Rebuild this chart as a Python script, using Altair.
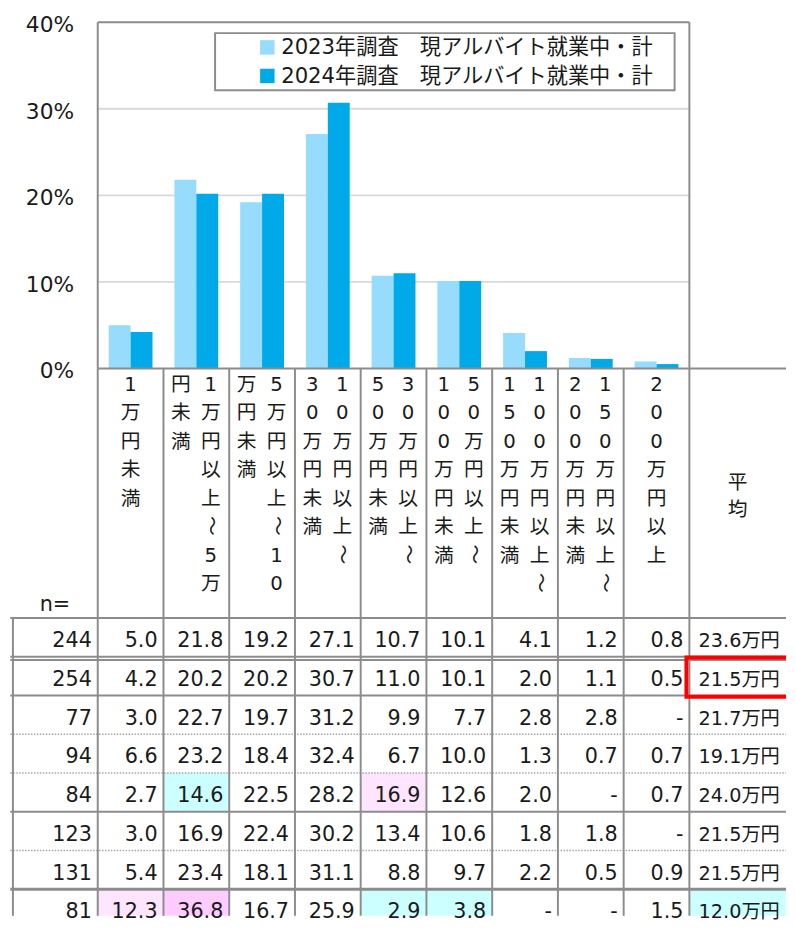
import altair as alt
import pandas as pd

FONT = "DejaVu Sans, Noto Sans CJK JP, sans-serif"

# ---------------- data ----------------
categories = ["1万円未満", "1万円以上～5万円未満", "5万円以上～10万円未満",
              "10万円以上～30万円未満", "30万円以上～50万円未満", "50万円以上～100万円未満",
              "100万円以上～150万円未満", "150万円以上～200万円未満", "200万円以上"]
series = ["2023年調査　現アルバイト就業中・計", "2024年調査　現アルバイト就業中・計"]
colors = ["#97DBFD", "#00AAE8"]
values_2023 = [5.0, 21.8, 19.2, 27.1, 10.7, 10.1, 4.1, 1.2, 0.8]
values_2024 = [4.2, 20.2, 20.2, 30.7, 11.0, 10.1, 2.0, 1.1, 0.5]
y_ticks = [0, 10, 20, 30, 40]
y_tick_labels = ["0%", "10%", "20%", "30%", "40%"]

# header text, vertical writing: right sub-column first, then left one
header_columns = [
    ["1万円未満"],
    ["1万円以上～5万", "円未満"],
    ["5万円以上～10", "万円未満"],
    ["10万円以上～", "30万円未満"],
    ["30万円以上～", "50万円未満"],
    ["50万円以上～", "100万円未満"],
    ["100万円以上～", "150万円未満"],
    ["150万円以上～", "200万円未満"],
    ["200万円以上"],
]
avg_header = "平均"
n_label = "n="

n_values = [244, 254, 77, 94, 84, 123, 131, 81]
row_values = [
    ["5.0", "21.8", "19.2", "27.1", "10.7", "10.1", "4.1", "1.2", "0.8"],
    ["4.2", "20.2", "20.2", "30.7", "11.0", "10.1", "2.0", "1.1", "0.5"],
    ["3.0", "22.7", "19.7", "31.2", "9.9", "7.7", "2.8", "2.8", "-"],
    ["6.6", "23.2", "18.4", "32.4", "6.7", "10.0", "1.3", "0.7", "0.7"],
    ["2.7", "14.6", "22.5", "28.2", "16.9", "12.6", "2.0", "-", "0.7"],
    ["3.0", "16.9", "22.4", "30.2", "13.4", "10.6", "1.8", "1.8", "-"],
    ["5.4", "23.4", "18.1", "31.1", "8.8", "9.7", "2.2", "0.5", "0.9"],
    ["12.3", "36.8", "16.7", "25.9", "2.9", "3.8", "-", "-", "1.5"],
]
averages = ["23.6万円", "21.5万円", "21.7万円", "19.1万円", "24.0万円",
            "21.5万円", "21.5万円", "12.0万円"]
# separator below header, then below each row
row_separators = ["solid", "double", "solid", "dotted", "dotted", "solid", "dotted", "thick"]
highlight_rows = [4, 4, 7, 7, 7, 7, 7]
highlight_cols = [1, 4, 0, 1, 4, 5, 9]
highlight_levels = ["low", "high", "high", "very_high", "low", "low", "low"]
level_names = ["low", "high", "very_high"]
level_colors = ["#CCFFFF", "#FFE5FF", "#FFCCFF"]
boxed_row, boxed_col = 1, 9

# ---------------- layout ----------------
NCAT = len(categories)
U_MIN, U_MAX = -1.35, 10.47
PCT_TOP = 40.8
R_TOP = -6.44
W, H_TOP, H_TAB = 788, 358, 555
R_BOTTOM = R_TOP + H_TAB / 39.3
GRID = "#8C8C8C"
TXT = "#1a1a1a"

xs = alt.Scale(domain=[U_MIN, U_MAX], nice=False, zero=False, padding=0)
ys_top = alt.Scale(domain=[0, PCT_TOP], nice=False, zero=False, padding=0)
ys_tab = alt.Scale(domain=[R_TOP, R_BOTTOM], nice=False, zero=False, reverse=True, padding=0)


def X(f):
    return alt.X(f, type="quantitative", scale=xs, axis=None)


def YT(f):
    return alt.Y(f, type="quantitative", scale=ys_top, axis=None)


def YB(f):
    return alt.Y(f, type="quantitative", scale=ys_tab, axis=None)


# ---------------- top: bar chart ----------------
bars_df = pd.DataFrame(
    [{"i": i, "s": 0, "series": series[0], "value": v} for i, v in enumerate(values_2023)]
    + [{"i": i, "s": 1, "series": series[1], "value": v} for i, v in enumerate(values_2024)]
)
color_scale = alt.Scale(domain=series, range=colors)

bars = alt.Chart(bars_df).transform_calculate(
    x0="datum.i + 0.1667 + 0.3333 * datum.s",
    x1="datum.x0 + 0.3333",
    zero="0",
).mark_rect().encode(
    x=X("x0"), x2="x1", y=YT("value"), y2="zero",
    color=alt.Color("series:N", scale=color_scale, legend=None),
)

grid_df = pd.DataFrame({"v": y_ticks[1:-1]})
grid = alt.Chart(grid_df).transform_calculate(
    x0="0", x1=str(NCAT)
).mark_rule(color="#D9D9D9", strokeWidth=2).encode(x=X("x0"), x2="x1", y=YT("v"))

frame_df = pd.DataFrame({
    "x": [0, NCAT, 0, 0],
    "x2": [0, NCAT, NCAT, U_MAX],
    "y": [0, 0, y_ticks[-1], 0],
    "y2": [y_ticks[-1], y_ticks[-1], y_ticks[-1], 0],
})
frame = alt.Chart(frame_df).mark_rule(color=GRID, strokeWidth=2).encode(
    x=X("x"), x2="x2", y=YT("y"), y2="y2")

ylab_df = pd.DataFrame({"v": y_ticks, "label": y_tick_labels})
ylabels = alt.Chart(ylab_df).transform_calculate(xl="-0.36").mark_text(
    align="right", baseline="alphabetic", fontSize=22, font=FONT, color=TXT, dy=10
).encode(x=X("xl"), y=YT("v"), text="label:N")

legbox = alt.Chart(pd.DataFrame({"a": [0]})).transform_calculate(
    x0="1.785", x1="8.775", y0="32.14", y1="38.75"
).mark_rect(fill="white", stroke=GRID, strokeWidth=2).encode(
    x=X("x0"), x2="x1", y=YT("y0"), y2="y1")

leg_df = pd.DataFrame({"s": [0, 1], "series": series})
legsq = alt.Chart(leg_df).transform_calculate(
    lx="2.58", ly="37.1 - 3.3 * datum.s"
).mark_square(size=215, opacity=1).encode(
    x=X("lx"), y=YT("ly"),
    color=alt.Color("series:N", scale=color_scale, legend=None))
legtx = alt.Chart(leg_df).transform_calculate(
    lx="2.79", ly="37.1 - 3.3 * datum.s"
).mark_text(align="left", baseline="middle", fontSize=21.5, font=FONT, color=TXT, dy=1).encode(
    x=X("lx"), y=YT("ly"), text="series:N")

top = alt.layer(grid, bars, frame, ylabels, legbox, legsq, legtx).properties(
    width=W, height=H_TOP)

# ---------------- bottom: table ----------------
X_LEFT = U_MIN + 0.02
hl_df = pd.DataFrame({"row": highlight_rows, "col": highlight_cols, "level": highlight_levels})
cells_bg = alt.Chart(hl_df).transform_calculate(
    x0="datum.col",
    x1=f"datum.col == {NCAT} ? {U_MAX + 0.5} : datum.col + 1",
    y0="datum.row", y1="datum.row + 1",
).mark_rect(clip=True).encode(
    x=X("x0"), x2="x1", y=YB("y0"), y2="y1",
    color=alt.Color("level:N", scale=alt.Scale(domain=level_names, range=level_colors), legend=None))

vl_df = pd.DataFrame({"c": list(range(NCAT + 1))})
vlines = alt.Chart(vl_df).transform_calculate(
    y0=str(R_TOP), y1=str(R_BOTTOM)
).mark_rule(color=GRID, strokeWidth=2).encode(x=X("c"), y=YB("y0"), y2="y1")
nline = alt.Chart(pd.DataFrame({"c": [-1.29]})).transform_calculate(
    y0="0", y1=str(R_BOTTOM)
).mark_rule(color=GRID, strokeWidth=2).encode(x=X("c"), y=YB("y0"), y2="y1")

sep_df = pd.DataFrame({"r": list(range(len(row_separators))), "style": row_separators})
sep_solid = alt.Chart(sep_df).transform_filter(
    "datum.style != 'dotted'"
).transform_calculate(x0=str(X_LEFT), x1=str(U_MAX)).mark_rule(
    color=GRID).encode(
    x=X("x0"), x2="x1", y=YB("r"),
    strokeWidth=alt.condition("datum.style == 'thick'", alt.value(3), alt.value(2)))
sep_double = alt.Chart(sep_df).transform_filter(
    "datum.style == 'double'"
).transform_calculate(x0=str(X_LEFT), x1=str(U_MAX), r2="datum.r + 0.085").mark_rule(
    color=GRID, strokeWidth=2).encode(x=X("x0"), x2="x1", y=YB("r2"))
sep_dot = alt.Chart(sep_df).transform_filter(
    "datum.style == 'dotted'"
).transform_calculate(x0=str(X_LEFT), x1=str(U_MAX)).mark_rule(
    color="#A6A6A6", strokeWidth=1.5, strokeDash=[1.5, 1.5]).encode(
    x=X("x0"), x2="x1", y=YB("r"))

cell_rows = []
for r, vals in enumerate(row_values):
    for c, v in enumerate(vals):
        cell_rows.append({"row": r, "col": c, "text": v})
cell_df = pd.DataFrame(cell_rows)
cells = alt.Chart(cell_df).transform_calculate(
    xr="datum.col + 0.91", yc="datum.row + 0.6"
).mark_text(align="right", baseline="middle", fontSize=21, font=FONT, color=TXT).encode(
    x=X("xr"), y=YB("yc"), text="text:N")

n_df = pd.DataFrame({"row": list(range(len(n_values))), "n": [str(v) for v in n_values]})
ncells = alt.Chart(n_df).transform_calculate(
    xr="-0.09", yc="datum.row + 0.6"
).mark_text(align="right", baseline="middle", fontSize=21, font=FONT, color=TXT).encode(
    x=X("xr"), y=YB("yc"), text="n:N")

avg_df = pd.DataFrame({"row": list(range(len(averages))), "avg": averages})
avgcells = alt.Chart(avg_df).transform_calculate(
    xl=f"{NCAT} + 0.14", yc="datum.row + 0.6"
).mark_text(align="left", baseline="middle", fontSize=19.5, font=FONT, color=TXT).encode(
    x=X("xl"), y=YB("yc"), text="avg:N")

hdr_rows = []
for i, cols in enumerate(header_columns):
    offs = [0.5] if len(cols) == 1 else [0.72, 0.265]
    for line, off in zip(cols, offs):
        for k, ch in enumerate(line):
            hdr_rows.append({"ch": ch, "u": i + off, "k": k})
for j, ch in enumerate(avg_header):
    hdr_rows.append({"ch": ch, "u": NCAT + 0.735, "k": 3.45 + j * 0.95})
hdr_df = pd.DataFrame(hdr_rows)
hdr_base = alt.Chart(hdr_df).transform_calculate(yk="-6.056 + 0.7354 * datum.k")
hdr_text = hdr_base.transform_filter("datum.ch != '～'").mark_text(
    align="center", baseline="middle", fontSize=20, font=FONT, color=TXT, dy=1.5).encode(
    x=X("u"), y=YB("yk"), text="ch:N")
hdr_tilde = hdr_base.transform_filter("datum.ch == '～'").mark_text(
    align="center", baseline="middle", fontSize=20, font=FONT, color=TXT, angle=90).encode(
    x=X("u"), y=YB("yk"), text="ch:N")

nlab = alt.Chart(pd.DataFrame({"t": [n_label]})).transform_calculate(
    xr="-0.42", yc="-0.36"
).mark_text(align="right", baseline="middle", fontSize=21, font=FONT, color=TXT, dy=1.5).encode(
    x=X("xr"), y=YB("yc"), text="t:N")

box = alt.Chart(pd.DataFrame({"row": [boxed_row], "col": [boxed_col]})).transform_calculate(
    x0="datum.col - 0.045", x1=str(U_MAX + 0.5),
    y0="datum.row + 0.02", y1="datum.row + 1.03",
).mark_rect(fillOpacity=0, stroke="#FF0000", strokeWidth=4, clip=True).encode(
    x=X("x0"), x2="x1", y=YB("y0"), y2="y1")

table = alt.layer(cells_bg, sep_dot, sep_solid, sep_double, vlines, nline,
                  cells, ncells, avgcells, hdr_text, hdr_tilde, nlab, box).properties(
    width=W, height=H_TAB)

chart = alt.vconcat(top, table, spacing=0, bounds="flush").resolve_scale(
    color="independent"
).properties(padding=0).configure_view(stroke=None).configure_scale(continuousPadding=0)

chart.save("out.html", embed_options={"renderer": "svg", "actions": False})
